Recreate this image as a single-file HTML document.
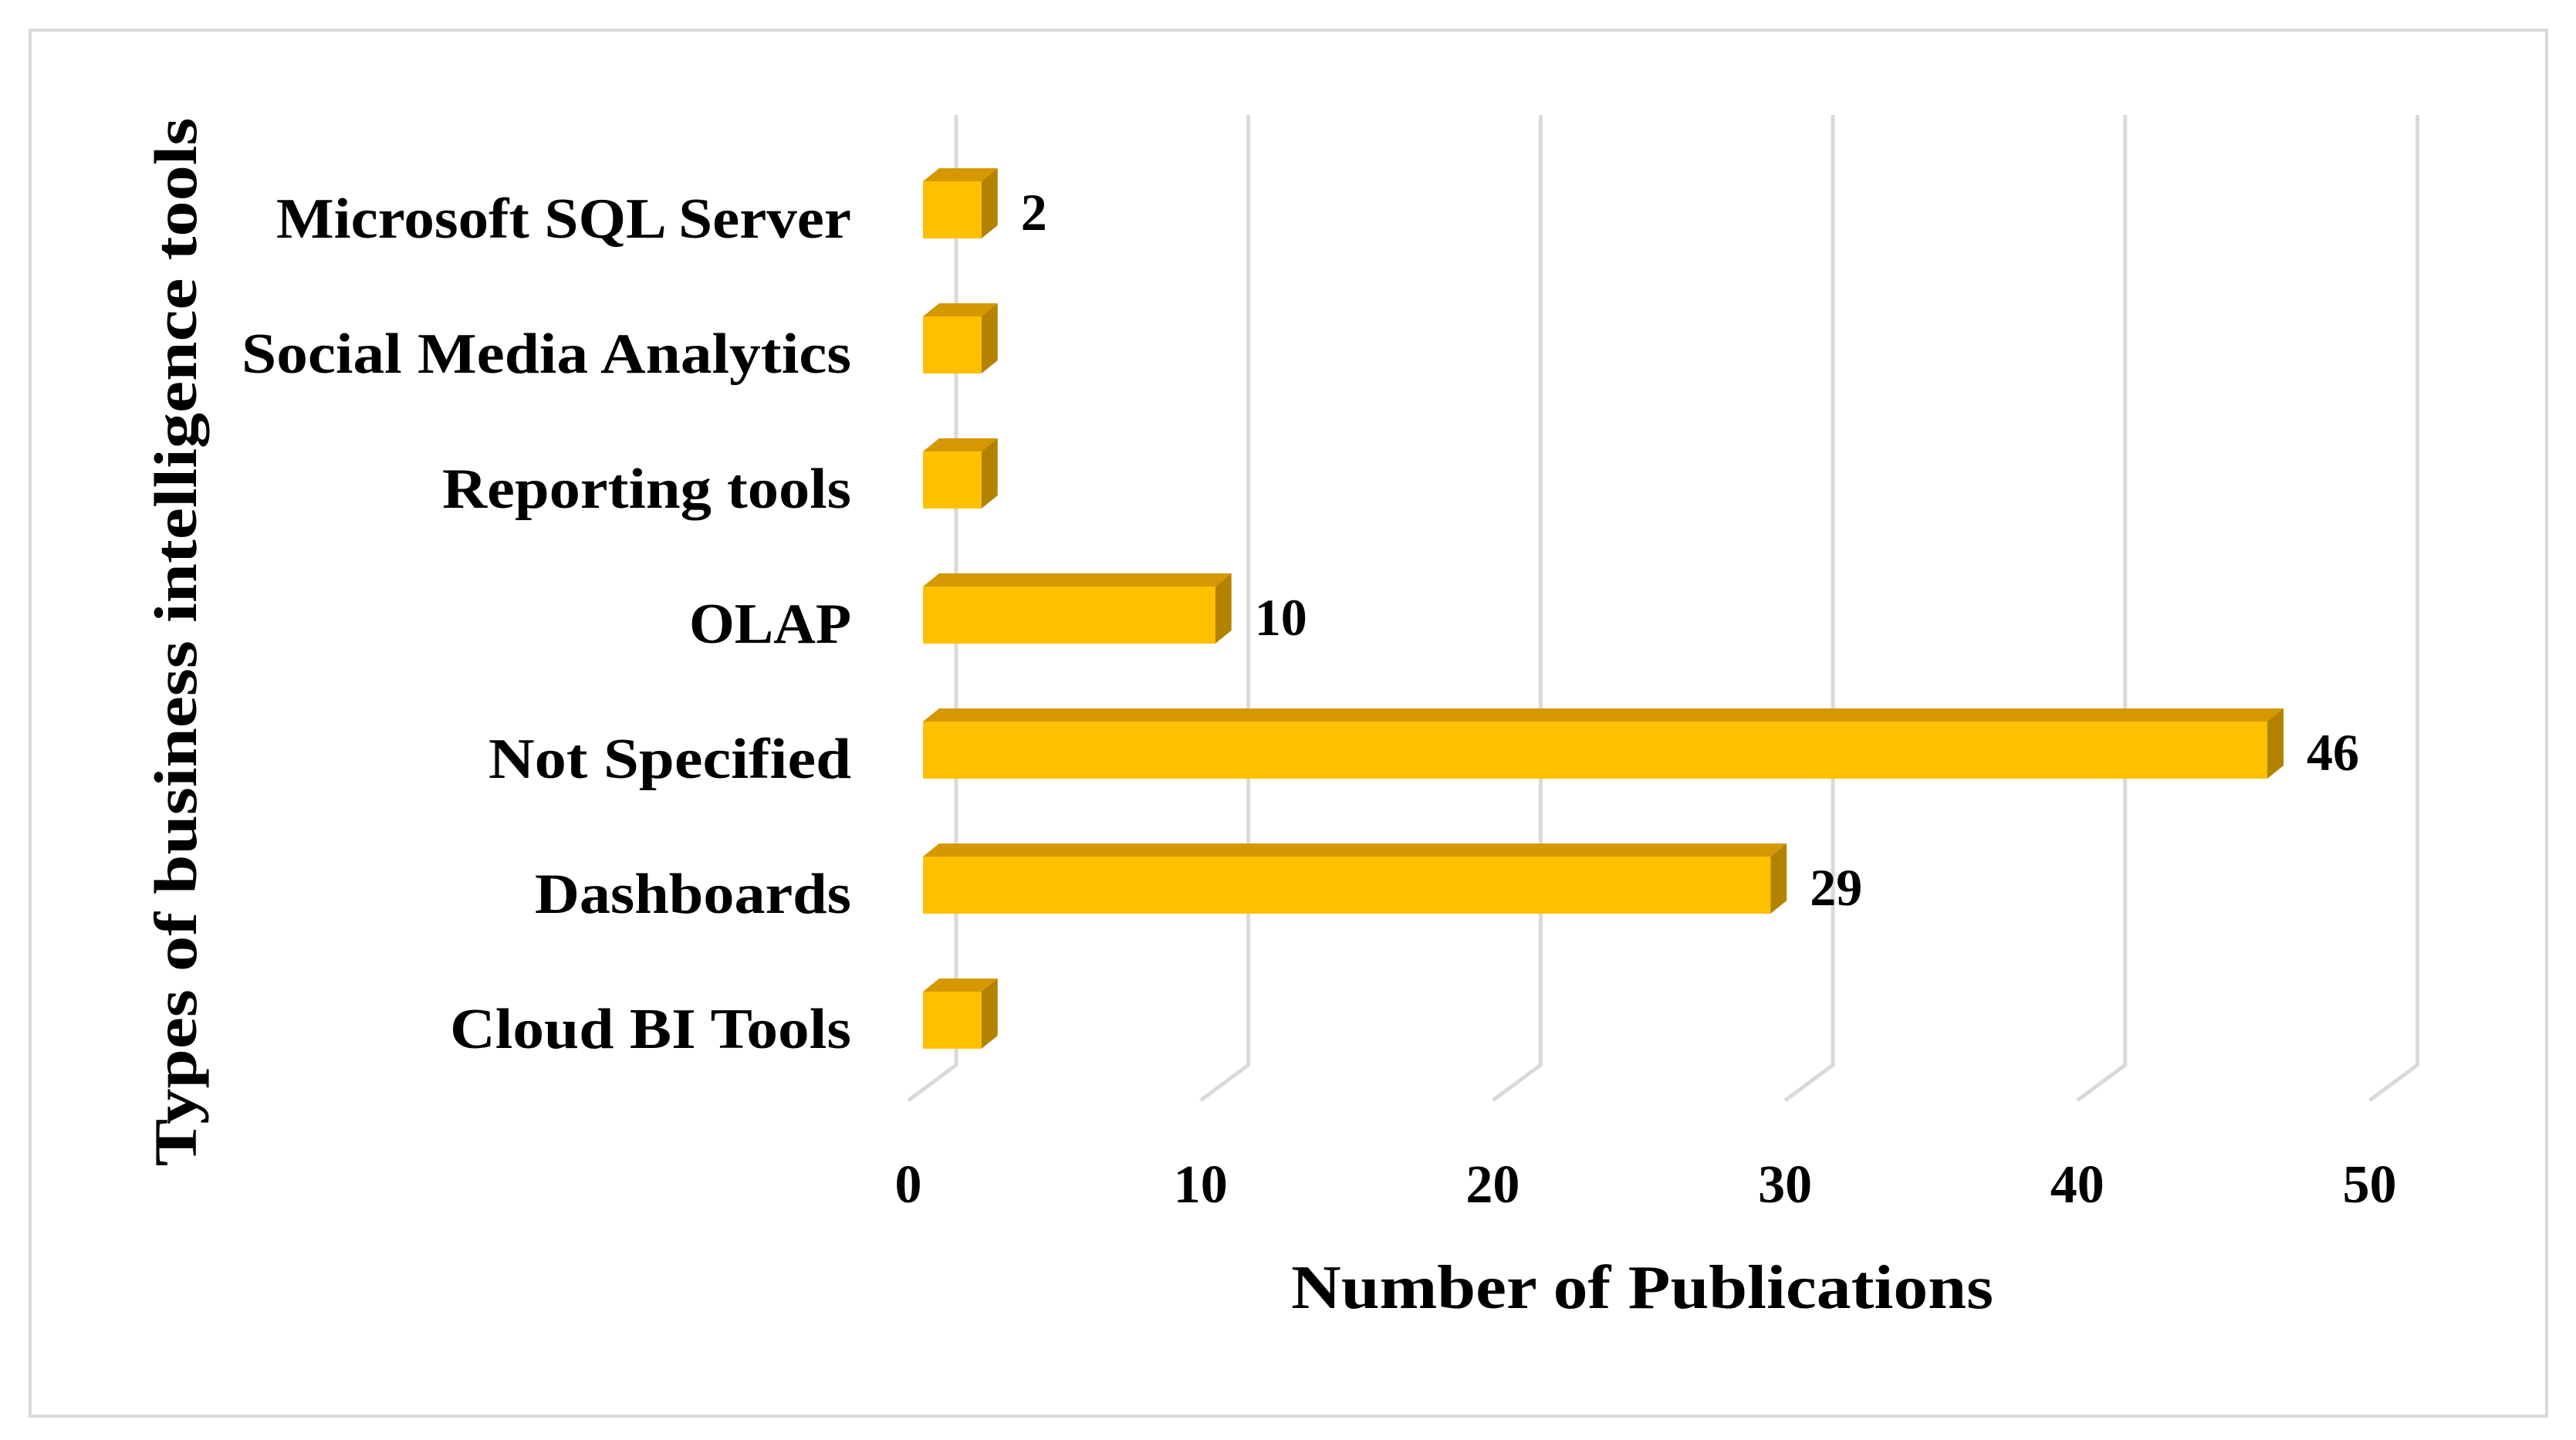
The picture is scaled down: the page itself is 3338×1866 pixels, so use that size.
<!DOCTYPE html>
<html><head><meta charset="utf-8"><style>
html,body{margin:0;padding:0;background:#fff;}
svg{display:block;}
text{font-family:"Liberation Serif",serif;font-weight:bold;fill:#000;}
</style></head><body>
<svg id="chart" width="3338" height="1866" viewBox="0 0 3338 1866" xmlns="http://www.w3.org/2000/svg">
<rect x="39" y="39" width="3261" height="1796" fill="#fff" stroke="#d9d9d9" stroke-width="4"/>
<g id="grid"></g>
<g id="bars"></g>
<g id="labels"></g>
<g id="ticks"></g>
<text x="2128" y="1695" font-size="80" text-anchor="middle" textLength="910" lengthAdjust="spacingAndGlyphs">Number of Publications</text>
<text transform="translate(254,832) rotate(-90)" x="0" y="0" font-size="78" text-anchor="middle" textLength="1359" lengthAdjust="spacingAndGlyphs">Types of business intelligence tools</text>
</svg>
<script>
const categories = ["Microsoft SQL Server","Social Media Analytics","Reporting tools","OLAP","Not Specified","Dashboards","Cloud BI Tools"];
const values = [2, 2, 2, 10, 46, 29, 2];
const valueLabels = ["2", "", "", "10", "46", "29", ""];
const ticks = [0, 10, 20, 30, 40, 50];
const tickLabels = ["0","10","20","30","40","50"];
const labelWidths = [745, 790, 530, 210, 470, 410, 520];

const NS = "http://www.w3.org/2000/svg";
const svg = document.getElementById('chart');
const X0 = 1196, UNIT = 37.87;
function xs(v){ return X0 + v*UNIT; }
const ROW0 = 272, ROWSTEP = 175;
function ys(i){ return ROW0 + i*ROWSTEP; }
function mk(tag, attrs, parent){
  const e = document.createElementNS(NS, tag);
  for (const k in attrs) e.setAttribute(k, attrs[k]);
  parent.appendChild(e); return e;
}
const grid = document.getElementById('grid');
ticks.forEach((t, i) => {
  const bx = xs(t) + 43, fx = xs(t) - 19;
  const p = mk('polyline', {points: `${bx},149 ${bx},1380 ${fx},1426`, fill:'none', stroke:'#d9d9d9', 'stroke-width':5}, grid);
  
  
  const tl = mk('text', {x: fx, y: 1558, 'font-size': 70, 'text-anchor': 'middle'}, document.getElementById('ticks'));
  tl.textContent = tickLabels[i];
  
  
});
const bars = document.getElementById('bars');
const DX = 21, DY = 17, H = 74;
categories.forEach((c, i) => {
  const cy = ys(i), top = cy - H/2, x1 = xs(0), x2 = xs(values[i]);
  const g = mk('g', {}, bars);
  
  
  mk('polygon', {points: `${x1},${top} ${x1+DX},${top-DY} ${x2+DX},${top-DY} ${x2},${top}`, fill:'#D59800'}, g);
  mk('polygon', {points: `${x2},${top} ${x2+DX},${top-DY} ${x2+DX},${top+H-DY} ${x2},${top+H}`, fill:'#B38300'}, g);
  mk('rect', {x: x1, y: top, width: x2 - x1, height: H, fill:'#FFC000'}, g);
  if (valueLabels[i]) {
    const vl = mk('text', {x: x2 + DX + 30, y: cy + 26, 'font-size': 68}, g);
    vl.textContent = valueLabels[i];
    
    
  }
  const cl = mk('text', {x: 1103, y: cy + 36, 'font-size': 74, 'text-anchor': 'end', textLength: labelWidths[i], lengthAdjust: 'spacingAndGlyphs'}, document.getElementById('labels'));
  cl.textContent = c;
  
  
});
</script>
</body></html>
